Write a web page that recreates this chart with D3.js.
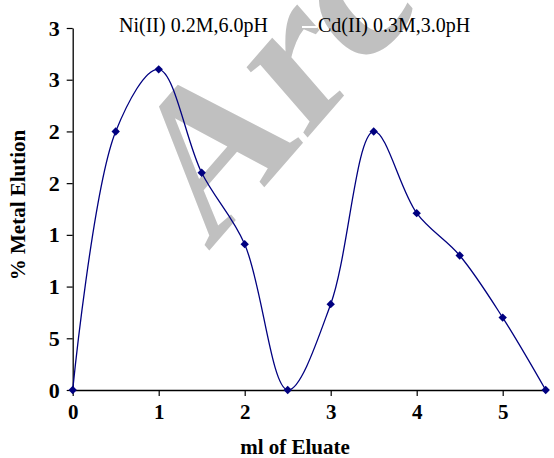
<!DOCTYPE html>
<html><head><meta charset="utf-8">
<script src="https://cdn.jsdelivr.net/npm/d3@7"></script>
<style>
html,body{margin:0;padding:0;background:#fff;}
svg{display:block;font-family:"Liberation Serif","Times New Roman",serif;}
</style></head>
<body>
<svg id="chart" width="554" height="458"></svg>
<script>
const xValues = [0, 0.5, 1, 1.5, 2, 2.5, 3, 3.5, 4, 4.5, 5, 5.5];
const yValues = [0, 25, 31, 21, 14.1, 0, 8.3, 25, 17.1, 13, 7, 0];
const xTickValues = [0, 1, 2, 3, 4, 5];
const yTickValues = [0, 5, 10, 15, 20, 25, 30, 35];
const yTickLabels = ["0", "5", "1", "1", "2", "2", "3", "3"];
const legendLabels = ["Ni(II) 0.2M,6.0pH", "Cd(II) 0.3M,3.0pH"];
const xTitle = "ml of Eluate";
const yTitle = "% Metal Elution";
const watermark = "Arc";

const svg = d3.select("#chart");
const mLeft = 72.7, mRight = 545.7, mTop = 28, mBottom = 390;
const x = d3.scaleLinear().domain([0, 5.5]).range([mLeft, mRight]);
const y = d3.scaleLinear().domain([0, 35]).range([mBottom, mTop]);

// watermark (behind chart)
svg.append("text")
  .attr("transform", "translate(208,252) scale(1,1.15) rotate(-45)")
  .attr("font-family", "Liberation Serif")
  .attr("font-weight", "bold")
  .attr("font-size", 188)
  .attr("fill", "#c0c0c0")
  .text(watermark);

// axes
const xAxis = d3.axisBottom(x).tickValues(xTickValues).tickFormat(d3.format("d")).tickSizeInner(6).tickSizeOuter(0).tickPadding(8);
const gx = svg.append("g").attr("transform", `translate(0,${mBottom})`).call(xAxis);
gx.select(".domain").attr("stroke", "#000").attr("stroke-width", 1.3);
gx.selectAll(".tick line").attr("stroke", "#000").attr("stroke-width", 1.2);
gx.selectAll(".tick text").attr("font-size", 21).attr("font-weight", "bold").attr("fill", "#000")
  .attr("font-family", "Liberation Serif");

const yAxis = d3.axisLeft(y).tickValues(yTickValues).tickFormat((d, i) => yTickLabels[i]).tickSizeInner(6).tickSizeOuter(0).tickPadding(7);
const gy = svg.append("g").attr("transform", `translate(${mLeft},0)`).call(yAxis);
gy.select(".domain").attr("stroke", "#000").attr("stroke-width", 1.3);
gy.selectAll(".tick line").attr("stroke", "#000").attr("stroke-width", 1.2);
gy.selectAll(".tick text").attr("font-size", 22).attr("font-weight", "bold").attr("fill", "#000")
  .attr("font-family", "Liberation Serif");

// titles
svg.append("text").attr("x", 295).attr("y", 454).attr("text-anchor", "middle")
  .attr("font-size", 21).attr("font-weight", "bold").text(xTitle);
svg.append("text").attr("transform", "translate(25,205) rotate(-90)").attr("text-anchor", "middle")
  .attr("font-size", 21).attr("font-weight", "bold").text(yTitle);

// legend
const legX = [119, 318];
legendLabels.forEach((t, i) => {
  svg.append("line").attr("x1", legX[i] - 16).attr("x2", legX[i] - 1).attr("y1", 27).attr("y2", 27)
    .attr("stroke", "#fff").attr("stroke-width", 2);
  svg.append("text").attr("x", legX[i]).attr("y", 32).attr("font-size", 20).attr("fill", "#000").text(t);
});

// line
const pts = xValues.map((v, i) => [v, yValues[i]]);
const line = d3.line().x(d => x(d[0])).y(d => y(d[1])).curve(d3.curveCatmullRom.alpha(0.5));
svg.append("path").datum(pts).attr("d", line).attr("fill", "none").attr("stroke", "#000080").attr("stroke-width", 1.3);

// markers
svg.selectAll(".mk").data(pts).join("path").attr("class", "mk")
  .attr("transform", d => `translate(${x(d[0])},${y(d[1])})`)
  .attr("d", d3.symbol(d3.symbolDiamond2, 45))
  .attr("fill", "#000080");
</script>
</body></html>
